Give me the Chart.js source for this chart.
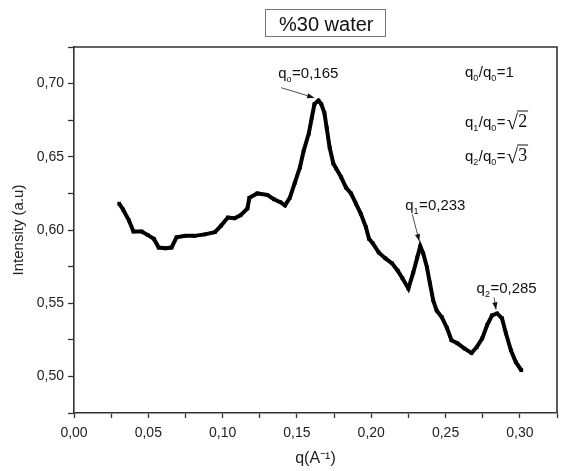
<!DOCTYPE html>
<html>
<head>
<meta charset="utf-8">
<script src="https://cdn.jsdelivr.net/npm/chart.js@4"></script>
<style>
html,body{margin:0;padding:0;background:#fff;overflow:hidden}
#wrap{width:564px;height:471px}
</style>
</head>
<body>
<div id="wrap"><canvas id="chart" width="564" height="471"></canvas></div>
<script>
// --- Data ---
const qValues = [0.0304,0.033,0.037,0.040,0.0455,0.0497,0.0537,0.057,0.0615,0.0656,0.069,0.0748,0.081,0.088,0.0948,0.099,0.1035,0.108,0.112,0.1167,
  0.118,0.1233,0.130,0.1345,0.1388,0.142,0.1452,0.1485,0.152,0.1545,0.158,0.160,0.1618,0.1645,0.1664,0.1685,0.170,0.172,0.1745,0.1764,
  0.1798,0.183,0.1864,0.1897,0.193,0.1964,0.1985,0.201,0.205,0.2096,0.214,0.2177,0.221,0.225,0.2283,0.231,0.233,0.235,0.2375,0.2395,
  0.2417,0.244,0.2475,0.251,0.254,0.258,0.2628,0.2675,0.271,0.2747,0.278,0.2813,0.2847,0.288,0.2906,0.294,0.2973,0.301];
const intensity = [0.618,0.614,0.6065,0.599,0.599,0.5965,0.594,0.588,0.5875,0.588,0.595,0.596,0.596,0.597,0.5985,0.603,0.6085,0.608,0.610,0.6147,
  0.622,0.625,0.624,0.621,0.619,0.6168,0.622,0.632,0.6427,0.654,0.666,0.6768,0.686,0.6884,0.686,0.680,0.670,0.6564,0.6454,0.642,
  0.636,0.629,0.625,0.618,0.611,0.602,0.594,0.591,0.5847,0.5806,0.5772,0.5724,0.567,0.560,0.571,0.5813,0.589,0.584,0.5745,0.5636,
  0.552,0.545,0.5404,0.533,0.5247,0.5226,0.519,0.516,0.520,0.526,0.535,0.5417,0.543,0.5397,0.5295,0.5178,0.5097,0.5042];

const xRange = [0, 0.325];
const yRange = [0.475, 0.725];
const tickStep = 0.025;   // labelled every 0.05

// peak markers: position, subscript, value text
const peakQ = [0.165, 0.233, 0.285];
const peakI = [0.689, 0.589, 0.543];
const peakSub = ['o', '1', '2'];
const peakText = ['=0,165', '=0,233', '=0,285'];

const titleText = '%30 water';

// --- Utils ---
const FONT = '"Liberation Sans", Arial, sans-serif';
const SERIF = '"Liberation Serif", "DejaVu Serif", serif';
function fmtComma(v){
  const m = Math.round(v*1000);
  return m % 50 === 0 ? (m/1000).toFixed(2).replace('.', ',') : '';
}

// draws runs of text; kind: n = normal, s = subscript
function drawRuns(ctx, x, base, runs, size){
  runs.forEach(r=>{
    if(r[1]==='s'){
      ctx.font = Math.round(size*0.62)+'px '+FONT;
      ctx.fillText(r[0], x, base+4);
    } else {
      ctx.font = size+'px '+FONT;
      ctx.fillText(r[0], x, base);
    }
    x += ctx.measureText(r[0]).width + (r[1]==='s'?0.5:0);
  });
  return x;
}
function drawSqrt(ctx, x, base, digit){
  ctx.font = '21px '+SERIF;
  ctx.fillText('\u221A', x, base+2);
  const w = ctx.measureText('\u221A').width;
  ctx.font = '18px '+SERIF;
  const dw = ctx.measureText(digit).width;
  ctx.fillText(digit, x+w, base);
  ctx.beginPath();
  ctx.lineWidth = 1;
  ctx.moveTo(x+w-1, base-16);
  ctx.lineTo(x+w+dw+1, base-16);
  ctx.stroke();
}
function arrow(ctx, x1, y1, x2, y2){
  ctx.strokeStyle = '#222';
  ctx.fillStyle = '#111';
  ctx.lineWidth = 0.8;
  ctx.beginPath(); ctx.moveTo(x1,y1); ctx.lineTo(x2,y2); ctx.stroke();
  const a = Math.atan2(y2-y1, x2-x1), L = 7, W = 2.6;
  ctx.beginPath();
  ctx.moveTo(x2,y2);
  ctx.lineTo(x2-L*Math.cos(a)+W*Math.sin(a), y2-L*Math.sin(a)-W*Math.cos(a));
  ctx.lineTo(x2-L*Math.cos(a)-W*Math.sin(a), y2-L*Math.sin(a)+W*Math.cos(a));
  ctx.closePath(); ctx.fill();
}

// label offsets from the peak pixel: [textDx, textDy, arrowStartDx, arrowStartDy, arrowEndDx, arrowEndDy]
const peakLabelOffsets = [[-41,-22,-38,-12,-5,-2],[-15,-36,-8,-32,-1,-5],[-21,-20,-3.5,-16,-1.5,-4]];

const decorPlugin = {
  id:'decor',
  afterDraw(chart){
    const ctx = chart.ctx, ca = chart.chartArea;
    const xs = chart.scales.x, ys = chart.scales.y;
    ctx.save();
    // frame top/right
    ctx.strokeStyle = '#333';
    ctx.lineWidth = 1.6;
    ctx.beginPath();
    ctx.moveTo(ca.left, ca.top); ctx.lineTo(ca.right, ca.top); ctx.lineTo(ca.right, ca.bottom);
    ctx.stroke();

    // title box
    ctx.font = '20px '+FONT;
    ctx.fillStyle = '#111';
    ctx.textBaseline = 'alphabetic';
    ctx.fillText(titleText, 279, 31);
    ctx.strokeStyle = '#777';
    ctx.lineWidth = 1;
    ctx.strokeRect(265.5, 9.5, 120, 27);

    // peak labels + arrows
    ctx.fillStyle = '#111';
    peakQ.forEach((q,i)=>{
      const px = xs.getPixelForValue(q), py = ys.getPixelForValue(peakI[i]);
      const o = peakLabelOffsets[i];
      drawRuns(ctx, px+o[0], py+o[1], [['q','n'],[peakSub[i],'s'],[peakText[i],'n']], 15);
      arrow(ctx, px+o[2], py+o[3], px+o[4], py+o[5]);
    });

    // ratio labels
    ctx.fillStyle = '#111';
    ctx.strokeStyle = '#111';
    drawRuns(ctx, 465, 77, [['q','n'],['0','s'],['/q','n'],['0','s'],['=1','n']], 15);
    let e = drawRuns(ctx, 465, 127, [['q','n'],['1','s'],['/q','n'],['0','s'],['=','n']], 15);
    drawSqrt(ctx, e+1, 127, '2');
    e = drawRuns(ctx, 465, 161, [['q','n'],['2','s'],['/q','n'],['0','s'],['=','n']], 15);
    drawSqrt(ctx, e+1, 161, '3');
    ctx.restore();
  }
};

// --- Chart ---
const ctx = document.getElementById('chart').getContext('2d');
const chart = new Chart(ctx, {
  type:'scatter',
  data:{
    datasets:[{
      data: qValues.map((q,i)=>({x:q, y:intensity[i]})),
      showLine:true,
      borderColor:'#000',
      borderWidth:4,
      backgroundColor:'#000',
      pointStyle:'rect',
      pointRadius:2.6,
      pointBorderWidth:0,
      tension:0
    }]
  },
  options:{
    responsive:false,
    devicePixelRatio:1,
    animation:false,
    layout:{padding:{top:47, right:0, left:0, bottom:0}},
    plugins:{legend:{display:false}, tooltip:{enabled:false}},
    scales:{
      x:{
        type:'linear', min:xRange[0], max:xRange[1],
        afterFit:s=>{ s.height = 58; },
        ticks:{stepSize:tickStep, autoSkip:false, maxRotation:0, callback:fmtComma,
               font:{family:FONT, size:14}, color:'#222', padding:7},
        grid:{drawOnChartArea:false, drawTicks:true, tickLength:5, tickColor:'#333', tickWidth:1.3},
        border:{display:true, color:'#333', width:1.6},
        title:{display:true, text:'q(A\u207B\u00B9)', font:{family:FONT, size:16}, color:'#222', padding:{top:2, bottom:3}}
      },
      y:{
        min:yRange[0], max:yRange[1],
        afterFit:s=>{ s.width = 74; },
        ticks:{stepSize:tickStep, autoSkip:false, callback:fmtComma,
               font:{family:FONT, size:14}, color:'#222', padding:4},
        grid:{drawOnChartArea:false, drawTicks:true, tickLength:6, tickColor:'#333', tickWidth:1.3},
        border:{display:true, color:'#333', width:1.6},
        title:{display:true, text:'Intensity (a.u)', font:{family:FONT, size:15}, color:'#222', padding:{top:10, bottom:0}}
      }
    }
  },
  plugins:[decorPlugin]
});
</script>
</body>
</html>
